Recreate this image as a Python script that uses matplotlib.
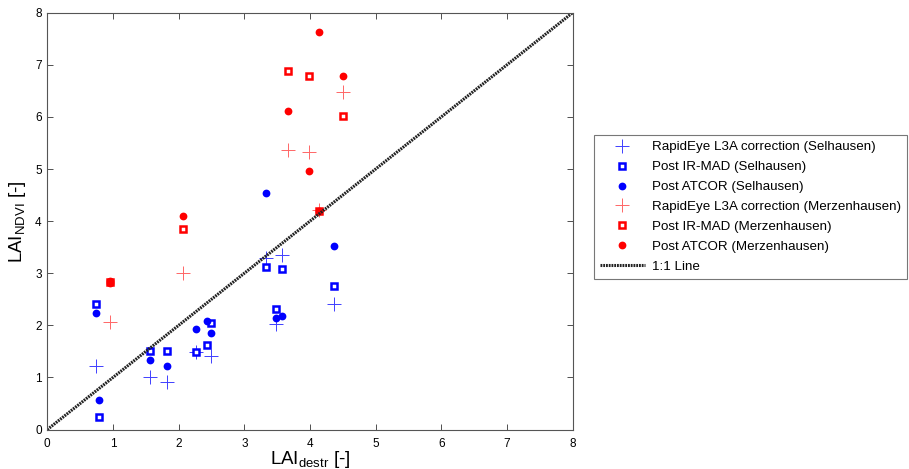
import matplotlib.pyplot as plt
import numpy as np

plt.rcParams.update({
    'font.family': ['Liberation Sans', 'DejaVu Sans'],
    'font.size': 9,
    'mathtext.fontset': 'custom',
    'mathtext.rm': 'Liberation Sans',
})

# Selhausen: LAI_destr (x) vs. LAI_NDVI (y)
sel_l3a_x = [0.74, 1.57, 1.82, 2.27, 2.50, 3.33, 3.58, 3.49, 4.37]
sel_l3a_y = [1.22, 1.00, 0.91, 1.49, 1.42, 3.29, 3.35, 2.02, 2.41]
sel_irmad_x = [0.74, 0.79, 1.57, 1.82, 2.27, 2.43, 2.50, 3.33, 3.58, 3.49, 4.37]
sel_irmad_y = [2.41, 0.24, 1.51, 1.50, 1.49, 1.63, 2.04, 3.12, 3.08, 2.32, 2.76]
sel_atcor_x = [0.74, 0.79, 1.57, 1.82, 2.27, 2.43, 2.50, 3.33, 3.49, 3.58, 4.37]
sel_atcor_y = [2.23, 0.57, 1.34, 1.22, 1.93, 2.08, 1.85, 4.54, 2.14, 2.18, 3.53]

# Merzenhausen
mer_l3a_x = [0.96, 2.07, 3.67, 3.99, 4.14, 4.50]
mer_l3a_y = [2.07, 3.01, 5.37, 5.32, 4.21, 6.47]
mer_irmad_x = [0.96, 2.07, 3.67, 3.99, 4.14, 4.50]
mer_irmad_y = [2.84, 3.85, 6.88, 6.79, 4.19, 6.01]
mer_atcor_x = [0.96, 0.96, 2.07, 3.67, 3.99, 4.14, 4.14, 4.50]
mer_atcor_y = [2.86, 2.82, 4.09, 6.11, 4.96, 7.62, 4.20, 6.78]

one_to_one = [0, 8]

fig = plt.figure(figsize=(9.09, 4.69), dpi=100)
ax = fig.add_axes([0.052, 0.084, 0.578, 0.889])

blue = '#0000ff'
red = '#ff0000'

ax.plot(sel_l3a_x, sel_l3a_y, '+', color=blue, ms=9.5, mew=0.7, alpha=0.75,
        label='RapidEye L3A correction (Selhausen)')
ax.plot(sel_irmad_x, sel_irmad_y, 's', mfc='white', mec=blue, ms=4.2, mew=1.8,
        label='Post IR-MAD (Selhausen)')
ax.plot(sel_atcor_x, sel_atcor_y, 'o', color=blue, ms=5.6, mew=0,
        label='Post ATCOR (Selhausen)')
ax.plot(mer_l3a_x, mer_l3a_y, '+', color=red, ms=9.5, mew=0.7, alpha=0.6,
        label='RapidEye L3A correction (Merzenhausen)')
ax.plot(mer_irmad_x, mer_irmad_y, 's', mfc='white', mec=red, ms=4.2, mew=1.8,
        label='Post IR-MAD (Merzenhausen)')
ax.plot(mer_atcor_x, mer_atcor_y, 'o', color=red, ms=5.6, mew=0,
        label='Post ATCOR (Merzenhausen)')
ax.plot(one_to_one, one_to_one, color='#222222', lw=2.2, ls=(0, (0.6, 0.3)),
        label='1:1 Line')

ax.set_xlim(0, 8)
ax.set_ylim(0, 8)
ax.set_xticks(range(0, 9))
ax.set_yticks(range(0, 9))
ax.tick_params(direction='in', top=True, right=True, length=4, width=0.6,
               colors='#333333', labelcolor='black', labelsize=8.5)
ax.tick_params(axis='x', pad=6)
ax.tick_params(axis='y', pad=4)
for s in ax.spines.values():
    s.set_color('#555555')
    s.set_linewidth(0.8)

ax.set_xlabel(r'LAI$_{\mathregular{destr}}$ [-]', fontsize=13.5, labelpad=-1)
ax.set_ylabel(r'LAI$_{\mathregular{NDVI}}$ [-]', fontsize=13.5, labelpad=5)

leg = ax.legend(loc='center left', bbox_to_anchor=(1.04, 0.534), fontsize=9.6,
                frameon=True, fancybox=False, edgecolor='#555555',
                borderpad=0.45, labelspacing=0.57, handlelength=3.4,
                handletextpad=0.55, borderaxespad=0)
leg.get_frame().set_linewidth(0.8)

fig.savefig('out.png', dpi=100)
